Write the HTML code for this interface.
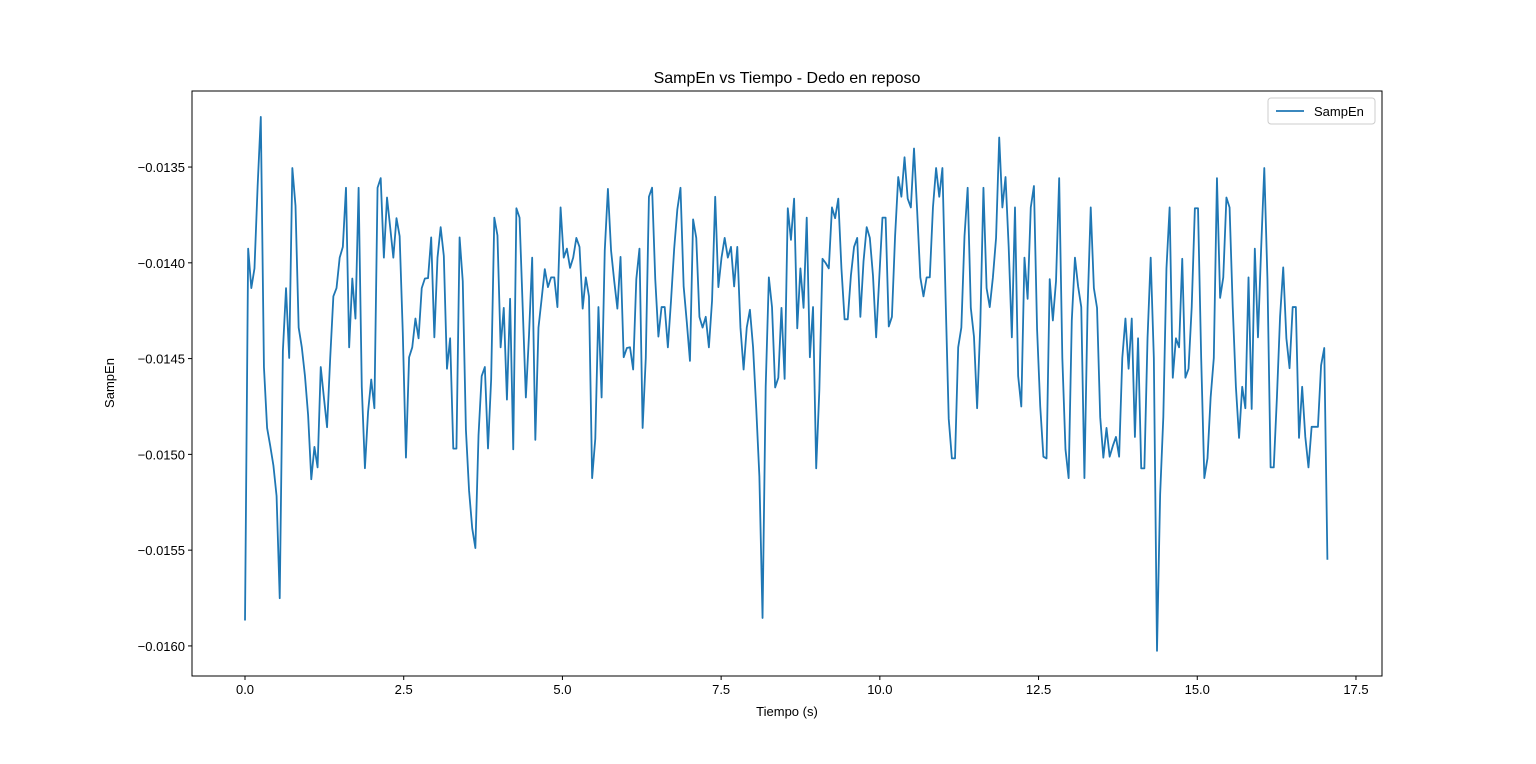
<!DOCTYPE html>
<html><head><meta charset="utf-8"><style>
body{margin:0;background:#fff;}
svg text{font-family:"Liberation Sans","DejaVu Sans",sans-serif;fill:#000;}
</style></head><body>
<svg id="chart" width="1536" height="759" xmlns="http://www.w3.org/2000/svg">
<rect width="1536" height="759" fill="#fff"/>
<text x="787" y="83" font-size="16" text-anchor="middle">SampEn vs Tiempo - Dedo en reposo</text>
<g id="ticks"></g>
<polyline id="line" fill="none" stroke="#1f77b4" stroke-width="1.8" stroke-linejoin="round"/>
<rect x="192" y="91" width="1190" height="585" fill="none" stroke="#000" stroke-width="1"/>
<text x="787" y="716" font-size="13" text-anchor="middle">Tiempo (s)</text>
<text x="114" y="383" font-size="13" text-anchor="middle" transform="rotate(-90 114 383)">SampEn</text>
<g>
<rect x="1268" y="98" width="107" height="26" rx="3" fill="#fff" stroke="#ccc"/>
<line x1="1276" y1="111" x2="1304" y2="111" stroke="#1f77b4" stroke-width="1.8"/>
<text x="1314" y="116" font-size="13">SampEn</text>
</g>
</svg>
<script>
const xTicks=[0,2.5,5,7.5,10,12.5,15,17.5];
const xTickLabels=["0.0","2.5","5.0","7.5","10.0","12.5","15.0","17.5"];
const yTicks=[-0.0160,-0.0155,-0.0150,-0.0145,-0.0140,-0.0135];
const yTickLabels=["\u22120.0160","\u22120.0155","\u22120.0150","\u22120.0145","\u22120.0140","\u22120.0135"];
const tEnd=17.05;
const sampEn=[-0.015867,-0.013926,-0.014132,-0.014029,-0.013599,-0.013238,-0.014544,-0.014862,-0.014956,-0.015058,-0.015217,-0.015751,-0.01446,-0.014132,-0.014497,-0.013505,-0.013702,-0.014338,-0.014441,-0.014591,-0.014796,-0.01513,-0.014961,-0.015068,-0.014544,-0.014703,-0.014858,-0.014497,-0.014175,-0.014132,-0.013973,-0.013917,-0.013608,-0.014441,-0.014082,-0.014291,-0.013608,-0.014647,-0.015072,-0.014778,-0.014609,-0.014759,-0.013608,-0.013558,-0.013973,-0.013659,-0.013814,-0.013973,-0.013767,-0.013861,-0.014366,-0.015017,-0.014493,-0.014441,-0.014291,-0.014394,-0.014132,-0.014082,-0.01408,-0.013867,
-0.014389,-0.013973,-0.013814,-0.013964,-0.014553,-0.014394,-0.01497,-0.01497,-0.013867,-0.014095,-0.014871,-0.015189,-0.015386,-0.015489,-0.014899,-0.014591,-0.014544,-0.014969,-0.014609,-0.013764,-0.013857,-0.014441,-0.014235,-0.014714,-0.014188,-0.014974,-0.013715,-0.013764,-0.014235,-0.014703,-0.014376,-0.013973,-0.014924,-0.014338,-0.014188,-0.014033,-0.014127,-0.014076,-0.014076,-0.014231,-0.013711,-0.013973,-0.013926,-0.014026,-0.013973,-0.01387,-0.013917,-0.014239,-0.014076,-0.014175,-0.015124,-0.014918,-0.014231,-0.014703,-0.013936,-0.013614,-0.013936,-0.014095,-0.014239,-0.013969,-0.014493,-0.014445,
-0.014441,-0.014557,-0.014085,-0.013926,-0.014862,-0.014497,-0.013655,-0.013608,-0.014085,-0.014385,-0.014231,-0.014231,-0.014441,-0.014198,-0.013926,-0.013721,-0.013608,-0.014123,-0.01431,-0.014512,-0.013773,-0.01387,-0.014282,-0.014338,-0.014282,-0.014441,-0.014198,-0.013655,-0.014127,-0.013973,-0.01387,-0.013973,-0.013917,-0.014123,-0.013917,-0.014338,-0.014557,-0.014338,-0.014245,-0.014441,-0.014759,-0.015115,-0.015854,-0.014647,-0.014076,-0.014231,-0.014651,-0.0146,-0.014235,-0.014606,-0.013715,-0.01388,-0.013665,-0.014342,-0.014029,-0.014235,-0.013764,-0.014493,-0.014231,-0.015073,-0.014666,-0.013979,
-0.014001,-0.014029,-0.013711,-0.013767,-0.013665,-0.014029,-0.014295,-0.014295,-0.014067,-0.013917,-0.01387,-0.014282,-0.013992,-0.013814,-0.01387,-0.014067,-0.014389,-0.014076,-0.013764,-0.013764,-0.014332,-0.014282,-0.013861,-0.013552,-0.013655,-0.013449,-0.013665,-0.013711,-0.013403,-0.01373,-0.014076,-0.014175,-0.014076,-0.014076,-0.013711,-0.013505,-0.013655,-0.013505,-0.014179,-0.014815,-0.015021,-0.015021,-0.014441,-0.014338,-0.013861,-0.013608,-0.014235,-0.014385,-0.014759,-0.014329,-0.013608,-0.014132,-0.014231,-0.014076,-0.01387,-0.013346,-0.013711,-0.013552,-0.013917,-0.014389,-0.013711,-0.014591,
-0.01475,-0.013973,-0.014188,-0.013711,-0.013599,-0.014347,-0.01475,-0.015012,-0.015021,-0.014085,-0.014301,-0.014095,-0.013558,-0.014497,-0.014974,-0.015124,-0.014301,-0.013973,-0.014123,-0.014231,-0.015124,-0.014235,-0.013711,-0.014132,-0.014235,-0.014806,-0.015017,-0.014862,-0.015012,-0.014956,-0.014909,-0.015012,-0.014497,-0.014291,-0.014553,-0.014291,-0.014909,-0.014394,-0.015073,-0.015073,-0.014394,-0.013973,-0.014497,-0.016026,-0.015208,-0.014806,-0.014029,-0.013711,-0.0146,
-0.014394,-0.014441,-0.013979,-0.0146,-0.014553,-0.014231,-0.013715,-0.013715,-0.014497,-0.015124,-0.015021,-0.014703,-0.014497,-0.013558,-0.014183,-0.014076,-0.013659,-0.013711,-0.014231,-0.014647,-0.014914,-0.014647,-0.014759,-0.014076,-0.014763,-0.013926,-0.014389,-0.013926,-0.013505,-0.014085,-0.015068,-0.015068,-0.014703,-0.014282,-0.014024,-0.014394,-0.01455,-0.014231,-0.014231,-0.014914,-0.014647,-0.014909,-0.015068,-0.014856,-0.014856,-0.014856,-0.014535,-0.014445,-0.01555];

const L=192,R=1382,T=91,B=676;
const xMin=-0.835,xMax=17.91,yMin=-0.016157,yMax=-0.013103;
function xs(v){return L+(v-xMin)/(xMax-xMin)*(R-L);}
function ys(v){return B-(v-yMin)/(yMax-yMin)*(B-T);}
const NS="http://www.w3.org/2000/svg";
const g=document.getElementById('ticks');
function mk(tag,attrs){const e=document.createElementNS(NS,tag);for(const k in attrs)e.setAttribute(k,attrs[k]);g.appendChild(e);return e;}
xTicks.forEach((v,i)=>{
  const x=xs(v);
  const tk=mk('line',{x1:x,x2:x,y1:B,y2:B+4,stroke:'#000'});
  
  
  const t=mk('text',{x:x,y:B+18,'font-size':13,'text-anchor':'middle'});
  
  
  t.textContent=xTickLabels[i];
});
yTicks.forEach((v,i)=>{
  const y=ys(v);
  const tk=mk('line',{x1:L-4,x2:L,y1:y,y2:y,stroke:'#000'});
  
  
  const t=mk('text',{x:L-7,y:y+5,'font-size':13,'text-anchor':'end'});
  
  
  t.textContent=yTickLabels[i];
});
const n=sampEn.length;
const pts=sampEn.map((v,i)=>xs(i*tEnd/(n-1)).toFixed(2)+','+ys(v).toFixed(2)).join(' ');
document.getElementById('line').setAttribute('points',pts);
</script>
</body></html>
